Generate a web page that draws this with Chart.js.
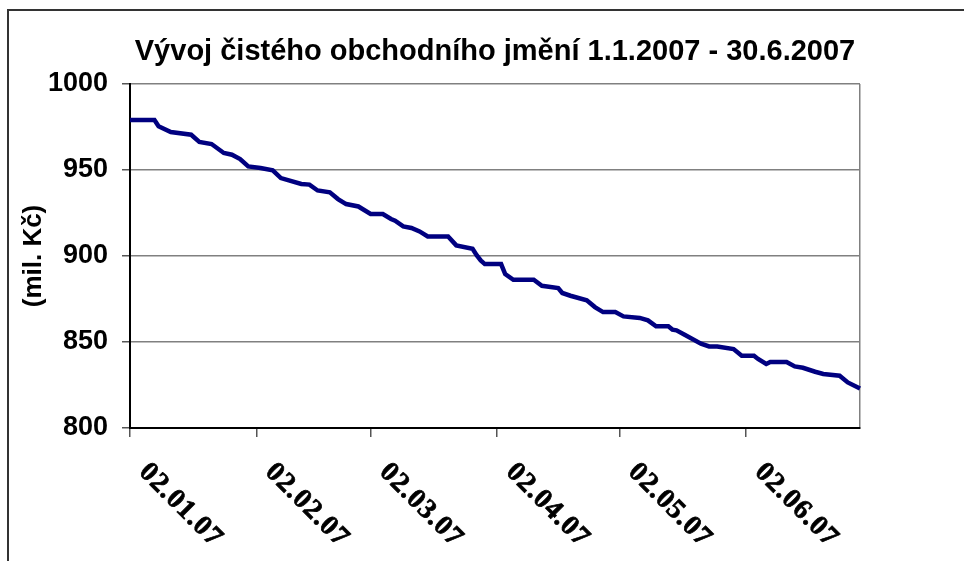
<!DOCTYPE html>
<html>
<head>
<meta charset="utf-8">
<script src="https://cdn.jsdelivr.net/npm/chart.js@4/dist/chart.umd.min.js"></script>
<style>
  html, body { margin: 0; padding: 0; background: #fff; }
  #wrap { position: relative; width: 964px; height: 561px; overflow: hidden; }
  #frame { position: absolute; left: 7px; top: 9px; width: 1000px; height: 600px; border: 2px solid #333; box-sizing: border-box; }
  canvas { position: absolute; left: 0; top: 0; }
</style>
</head>
<body>
<div id="wrap">
  <div id="frame"></div>
  <canvas id="c" width="964" height="561"></canvas>
</div>
<script>
// ---- data ----
const chartTitle = 'Vývoj čistého obchodního jmění 1.1.2007 - 30.6.2007';
const yAxisTitle = '(mil. Kč)';
const dates = [
  '02.01.07','08.01.07','09.01.07','12.01.07','17.01.07','19.01.07','22.01.07','25.01.07','27.01.07','29.01.07','31.01.07',
  '03.02.07','06.02.07','08.02.07','13.02.07','15.02.07','17.02.07','20.02.07','22.02.07','24.02.07','27.02.07',
  '02.03.07','05.03.07','07.03.07','08.03.07','10.03.07','12.03.07','14.03.07','16.03.07','21.03.07','23.03.07','27.03.07','28.03.07','29.03.07','30.03.07',
  '03.04.07','04.04.07','06.04.07','11.04.07','13.04.07','17.04.07','18.04.07','20.04.07','24.04.07','26.04.07','28.04.07',
  '01.05.07','03.05.07','07.05.07','09.05.07','11.05.07','14.05.07','15.05.07','16.05.07','18.05.07','22.05.07','24.05.07','26.05.07','30.05.07',
  '01.06.07','04.06.07','05.06.07','07.06.07','08.06.07','12.06.07','14.06.07','16.06.07','19.06.07','21.06.07','25.06.07','27.06.07','30.06.07'
];
const values = [
  979.0, 979.0, 975.4, 972.1, 970.5, 966.3, 965.1, 959.9, 958.9, 956.4, 952.1,
  951.2, 949.8, 945.3, 941.9, 941.5, 938.1, 937.0, 933.1, 930.2, 928.8,
  924.4, 924.4, 921.5, 920.5, 917.2, 916.3, 914.3, 911.4, 911.4, 906.2, 904.2, 900.5, 897.4, 895.3,
  895.3, 889.5, 886.2, 886.2, 882.7, 881.4, 878.5, 876.9, 874.2, 870.3, 867.4,
  867.4, 864.9, 864.0, 862.6, 859.1, 859.1, 857.2, 856.8, 854.2, 849.0, 847.4, 847.4, 845.9,
  842.0, 842.0, 840.1, 837.2, 838.4, 838.4, 835.8, 835.0, 832.7, 831.4, 830.4, 826.5, 823.0
];
const tickLabels = ['02.01.07','02.02.07','02.03.07','02.04.07','02.05.07','02.06.07'];
const startDate = '02.01.07';
const endDate = '30.06.07';
const yTicks = [800, 850, 900, 950, 1000];

// ---- helpers ----
function dayOf(s) {
  const [d, m, y] = s.split('.').map(Number);
  const [d0, m0, y0] = startDate.split('.').map(Number);
  return Math.round((Date.UTC(2000 + y, m - 1, d) - Date.UTC(2000 + y0, m0 - 1, d0)) / 86400000);
}
const points = dates.map((s, i) => ({ x: dayOf(s), y: values[i] }));
const tickDays = tickLabels.map(dayOf);
const lastDay = dayOf(endDate);

const xLabelPlugin = {
  id: 'xLabels',
  afterDraw(chart) {
    const ctx = chart.ctx;
    const xs = chart.scales.x;
    const bottom = chart.chartArea.bottom;
    ctx.save();
    ctx.font = 'bold 28px "Liberation Serif"';
    try { ctx.letterSpacing = '1px'; } catch (e) {}
    ctx.fillStyle = '#000';
    ctx.strokeStyle = '#000';
    ctx.lineWidth = 0.7;
    ctx.textAlign = 'left';
    ctx.textBaseline = 'middle';
    tickLabels.forEach(lbl => {
      const px = xs.getPixelForValue(dayOf(lbl));
      ctx.save();
      ctx.translate(px + 13, bottom + 40);
      ctx.rotate(Math.PI / 4);
      ctx.fillText(lbl, 0, 0);
      ctx.strokeText(lbl, 0, 0);
      ctx.restore();
    });
    ctx.restore();
  }
};

new Chart(document.getElementById('c'), {
  type: 'line',
  data: {
    datasets: [{
      data: points,
      borderColor: '#000080',
      borderWidth: 4.5,
      pointRadius: 0,
      tension: 0,
      fill: false,
      clip: false
    }]
  },
  options: {
    responsive: false,
    animation: false,
    events: [],
    layout: { padding: { left: 0, top: 0, right: 104, bottom: 0 } },
    plugins: {
      legend: { display: false },
      tooltip: { enabled: false },
      title: {
        display: true,
        text: chartTitle,
        fullSize: false,
        color: '#000',
        font: { family: '"Liberation Sans", Arial, sans-serif', size: 29, weight: 'bold' },
        padding: { top: 34.6, bottom: 14.6 }
      }
    },
    scales: {
      x: {
        type: 'linear',
        min: 0,
        max: lastDay,
        afterBuildTicks: s => { s.ticks = tickDays.concat([lastDay]).map(v => ({ value: v })); },
        afterFit: s => { s.height = 133; },
        ticks: { display: false },
        border: { display: true, color: '#000', width: 2 },
        grid: {
          drawOnChartArea: true,
          drawTicks: true,
          tickLength: 9,
          lineWidth: 1.5,
          color: c => (c.tick && c.tick.value === lastDay) ? '#808080' : 'rgba(0,0,0,0)',
          tickColor: c => (c.tick && c.tick.value === lastDay) ? 'rgba(0,0,0,0)' : '#555'
        }
      },
      y: {
        min: 800,
        max: 1000,
        afterBuildTicks: s => { s.ticks = yTicks.map(v => ({ value: v })); },
        afterFit: s => { s.width = 130; },
        ticks: {
          color: '#000',
          padding: 14,
          callback: v => String(v),
          font: { family: '"Liberation Sans", Arial, sans-serif', size: 27, weight: 'bold' }
        },
        border: { display: true, color: '#000', width: 2 },
        grid: {
          color: '#808080',
          lineWidth: 1.5,
          tickLength: 8,
          tickColor: '#555'
        },
        title: {
          display: true,
          text: yAxisTitle,
          color: '#000',
          font: { family: '"Liberation Sans", Arial, sans-serif', size: 26, weight: 'bold' },
          padding: { top: 18.4, bottom: 0 }
        }
      }
    }
  },
  plugins: [xLabelPlugin]
});
</script>
</body>
</html>
